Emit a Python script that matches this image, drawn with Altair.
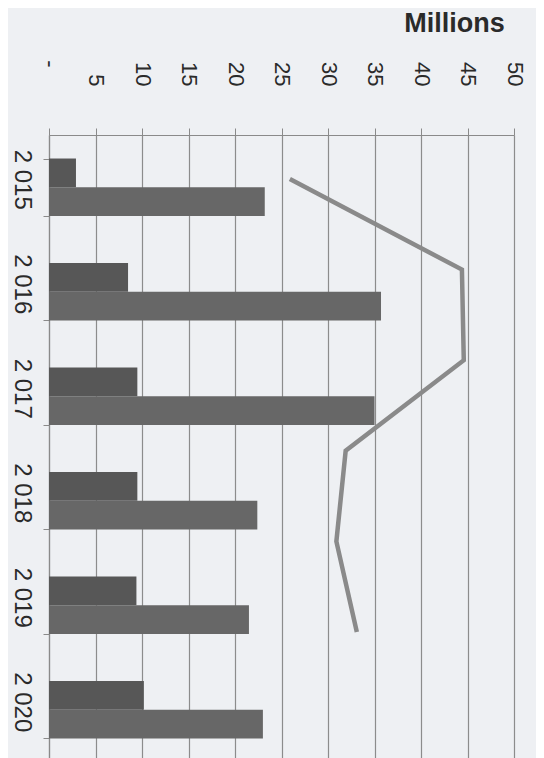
import altair as alt
import pandas as pd

years = ["2 015", "2 016", "2 017", "2 018", "2 019", "2 020"]
series_a = [2.9, 8.5, 9.5, 9.5, 9.4, 10.2]
series_b = [23.2, 35.7, 35.0, 22.4, 21.5, 23.0]
line_vals = [25.9, 44.4, 44.6, 31.9, 30.9, 33.1]
x_ticks = [0, 5, 10, 15, 20, 25, 30, 35, 40, 45, 50]

bars_df = pd.DataFrame({
    "year": years * 2,
    "series": ["A"] * len(years) + ["B"] * len(years),
    "value": series_a + series_b,
})
line_df = pd.DataFrame({"year": years, "value": line_vals})

FONT = "Liberation Sans"
xscale = alt.Scale(domain=[0, 50], nice=False, zero=True)

x_axis = alt.Axis(
    orient="top", values=x_ticks, labelAngle=90, labelAlign="right",
    labelBaseline="middle", labelFontSize=22, labelFont=FONT, labelColor="#2a2a2a",
    labelPadding={"condition": {"test": "datum.value == 0", "value": 61}, "value": 42},
    labelFlush=False, labelOverlap=False,
    labelExpr="datum.value == 0 ? '-' : datum.label",
    tickSize=7, tickColor="#8a8a8a", domainColor="#8a8a8a", domainWidth=1.2,
    grid=True, gridColor="#8c8c8c", gridWidth=1.2,
    title="Millions", titleFont=FONT, titleFontSize=27, titleFontWeight="bold",
    titleColor="#2a2a2a", titleAngle=0, titleX=405, titleY=-112,
    titleAlign="center", titleBaseline="middle",
)

y_axis = alt.Axis(
    orient="left", labelAngle=90, labelAlign="center", labelBaseline="top",
    labelFontSize=24, labelFont=FONT, labelColor="#2a2a2a", labelPadding=10,
    labelOffset=-8, tickSize=6, tickBand="extent", tickColor="#8a8a8a",
    domainColor="#8a8a8a", domainWidth=1.2, grid=False, title=None,
)

bars = alt.Chart(bars_df).mark_bar().encode(
    x=alt.X("value:Q", scale=xscale, axis=x_axis),
    y=alt.Y("year:N", sort=years,
            scale=alt.Scale(domain=years, paddingInner=0.45, paddingOuter=0.225),
            axis=y_axis),
    yOffset=alt.YOffset("series:N", scale=alt.Scale(domain=["A", "B"], paddingInner=0, paddingOuter=0)),
    color=alt.Color("series:N", scale=alt.Scale(domain=["A", "B"], range=["#575757", "#676767"]), legend=None),
)

line = alt.Chart(line_df).mark_line(color="#8a8a8a", strokeWidth=4.5).encode(
    x=alt.X("value:Q", scale=xscale),
    y=alt.Y("year:N", sort=years,
            scale=alt.Scale(type="point", domain=years, range=[44, 497], padding=0),
            axis=None),
)

chart = alt.layer(bars, line).resolve_scale(y="independent").properties(
    width=465, height=627,
    autosize=alt.AutoSizeParams(type="none"),
    padding={"left": 41, "top": 127, "right": 22, "bottom": 0},
    background="#eef0f3",
).configure_view(stroke=None)

chart.save("out.html", embed_options={"renderer": "svg", "actions": False})
